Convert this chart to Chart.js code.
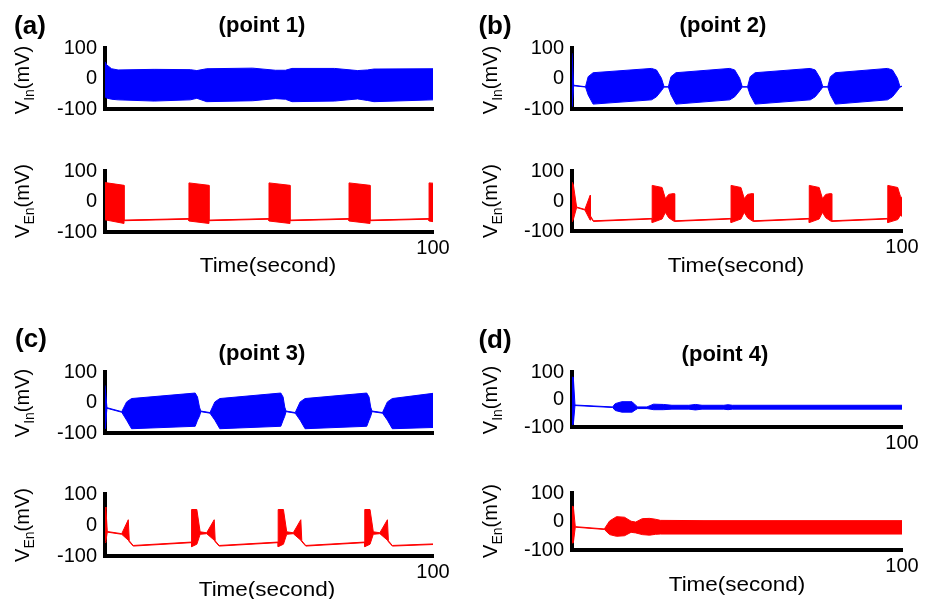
<!DOCTYPE html>
<html>
<head>
<meta charset="utf-8">
<script src="https://cdn.jsdelivr.net/npm/chart.js@4.4.1/dist/chart.umd.min.js"></script>
<style>
  html, body { margin: 0; padding: 0; background: #fff; }
  #fig { position: relative; width: 931px; height: 599px; overflow: hidden; font-family: "Liberation Sans", Arial, sans-serif; color: #000; }
  #fig canvas { position: absolute; }
  .txt { position: absolute; white-space: nowrap; transform: translate(-50%, -50%); line-height: 1; }
  .tag { font-weight: bold; font-size: 26px; }
  .ttl { font-weight: bold; font-size: 22px; }
  .xt { font-size: 21px; transform: translate(-50%, -50%) scaleX(1.07); }
  .yt { font-size: 20px; transform: translate(-50%, -50%) rotate(-90deg); }
  .yt sub { font-size: 14px; vertical-align: -5px; }
</style>
</head>
<body>
<div id="fig"></div>
<script>
// time in seconds, envelopes of the membrane potential in mV (upper / lower edge)
const aInT  = [0, 0.5, 2, 4, 15, 26, 28, 31, 45, 52, 55, 57, 70, 77, 80, 82, 100];
const aInHi = [55, 45, 32, 28, 30, 29, 26, 32, 34, 27, 27, 33, 33, 26, 28, 31, 32];
const aInLo = [-60, -64, -68, -70, -74, -70, -65, -76, -73, -66, -68, -76, -74, -67, -72, -76, -70];

const aEnT  = [0, 5.8, 5.8, 25.6, 25.6, 31.7, 31.7, 50, 50, 56.4, 56.4, 74.4, 74.4, 80.8, 80.8, 98.8, 98.8, 100];
const aEnHi = [62, 53, -61, -56, 61, 53, -61, -56, 61, 53, -61, -56, 61, 53, -61, -56, 61, 60];
const aEnLo = [-60, -72, -63, -58, -64, -72, -63, -58, -64, -72, -63, -58, -64, -72, -63, -58, -64, -66];

const bInT  = [0, 0.2, 0.5, 4.1, 4.9, 6.4, 24.1, 25.6, 27.1, 27.9, 29.2, 30.0, 31.5, 47.8, 49.3, 50.8, 51.6,
               53.2, 54.0, 55.5, 72.2, 73.7, 75.2, 76.0, 77.5, 78.3, 79.8, 95.6, 97.1, 98.6, 99.4, 100];
const bInHi = [83, 83, -22, -27, 6, 19, 33, 28, 1, -27, -27, 6, 19, 33, 28, 1, -27,
               -27, 6, 19, 33, 28, 1, -27, -27, 6, 19, 33, 28, 1, -27, -25];
const bInLo = [-92, -92, -24, -28, -54, -84, -70, -60, -40, -28, -28, -54, -84, -70, -60, -40, -28,
               -28, -54, -84, -70, -60, -40, -28, -28, -54, -84, -70, -60, -40, -28, -26];

const bEnT  = [0, 0.4, 1.4, 3.9, 5.5, 5.6, 6.5, 24.3, 24.3, 27.3, 28.3, 29.3, 30.8, 31.1, 31.1,
               48.2, 48.2, 51.2, 52.2, 53.2, 54.7, 55.0, 55.0, 71.9, 71.9, 74.9, 75.9, 76.9, 78.4, 78.7, 78.7,
               95.7, 95.7, 98.7, 99.5, 100];
const bEnHi = [63, 55, -20, -28, 19, -50, -66, -58, 52, 45, 8, 22, 25, 24, -66,
               -58, 52, 45, 8, 22, 25, 24, -66, -58, 52, 45, 8, 22, 25, 24, -66,
               -58, 52, 45, 16, 11];
const bEnLo = [-70, -62, -22, -30, -64, -55, -68, -60, -72, -60, -38, -56, -67, -68, -68,
               -60, -72, -60, -38, -56, -67, -68, -68, -60, -72, -60, -38, -56, -67, -68, -68,
               -60, -72, -62, -48, -51];

const cInT  = [0, 0.3, 0.6, 5.1, 6.6, 8.1, 27.5, 28.2, 28.8, 29.2, 32.0, 33.5, 35.0, 53.6, 54.3, 54.8, 55.2,
               58.0, 59.5, 61.0, 79.8, 80.5, 81.0, 81.4, 84.6, 86.1, 87.6, 100];
const cInHi = [56, 56, -17, -30, 2, 13, 31, 18, -15, -28, -33, 2, 13, 31, 18, -15, -28,
               -33, 2, 13, 31, 18, -15, -28, -33, 2, 13, 30];
const cInLo = [-86, -86, -19, -32, -58, -86, -78, -58, -45, -30, -35, -58, -86, -78, -58, -45, -30,
               -35, -58, -86, -78, -58, -45, -30, -35, -58, -86, -82];

const cEnT  = [0, 0.3, 0.7, 5.1, 7.1, 7.4, 8.6, 26.4, 26.4, 28.0, 29.0, 31.0, 33.3, 33.6, 34.8,
               52.8, 52.8, 54.4, 55.4, 57.4, 59.7, 60.0, 61.2, 79.2, 79.2, 80.8, 81.8, 83.8, 86.1, 86.4, 87.6, 100];
const cEnHi = [58, 50, -21, -28, 17, -51, -66, -55, 50, 50, -22, -25, 17, -51, -66,
               -55, 50, 50, -22, -25, 17, -51, -66, -55, 50, 50, -22, -25, 17, -51, -66, -61];
const cEnLo = [-56, -50, -23, -30, -49, -54, -68, -57, -70, -62, -30, -28, -49, -54, -68,
               -57, -70, -62, -30, -28, -49, -54, -68, -57, -70, -62, -30, -28, -49, -54, -68, -63];

const dInT  = [0, 0.4, 0.9, 12.3, 13.1, 15.1, 18.2, 19.2, 19.9, 22.7, 24.7, 27.7, 30.3, 35.4, 37.4, 39.4, 46, 47.3, 48.6, 100];
const dInHi = [81, 81, -20, -27, -15, -8, -8, -20, -27, -27, -17, -18, -21, -21, -18, -21, -21, -19, -21, -21];
const dInLo = [-91, -91, -22, -29, -40, -46, -46, -38, -33, -33, -37, -37, -35, -35, -38, -35, -35, -37, -35, -35];

const dEnT  = [0, 0.4, 1.0, 9.8, 11.4, 13.5, 15.9, 17.9, 19.3, 21.3, 23.5, 25.3, 26.8, 40, 100];
const dEnHi = [53, 53, -18, -26, 2, 17, 15, 1, -2, 10, 11, 8, 4, 3, 3];
const dEnLo = [-75, -75, -20, -28, -46, -52, -50, -38, -40, -46, -48, -45, -44, -44, -44];

const yTicks = [-100, 0, 100];
const xTickLabel = 100;

const BLUE = '#0000ff';
const RED = '#ff0000';
const FONT = 'Liberation Sans';

// plot boxes in page pixels: left/right of the axis, top (100 mV) and bottom (-100 mV)
const panels = [
  { t: aInT, hi: aInHi, lo: aInLo, color: BLUE, L: 105, R: 433, T: 48,  B: 109, xLabel: false },
  { t: aEnT, hi: aEnHi, lo: aEnLo, color: RED,  L: 105, R: 433, T: 171, B: 232, xLabel: true },
  { t: bInT, hi: bInHi, lo: bInLo, color: BLUE, L: 572, R: 902, T: 48,  B: 109, xLabel: false },
  { t: bEnT, hi: bEnHi, lo: bEnLo, color: RED,  L: 572, R: 902, T: 171, B: 231, xLabel: true },
  { t: cInT, hi: cInHi, lo: cInLo, color: BLUE, L: 105, R: 433, T: 372, B: 433, xLabel: false },
  { t: cEnT, hi: cEnHi, lo: cEnLo, color: RED,  L: 105, R: 433, T: 494, B: 556, xLabel: true },
  { t: dInT, hi: dInHi, lo: dInLo, color: BLUE, L: 572, R: 902, T: 372, B: 427, xLabel: true },
  { t: dEnT, hi: dEnHi, lo: dEnLo, color: RED,  L: 572, R: 902, T: 493, B: 550, xLabel: true }
];

const texts = [
  ['tag', '(a)', 30, 25], ['tag', '(b)', 495, 25], ['tag', '(c)', 31, 338], ['tag', '(d)', 495, 339],
  ['ttl', '(point 1)', 262, 25], ['ttl', '(point 2)', 723, 25], ['ttl', '(point 3)', 262, 353], ['ttl', '(point 4)', 725, 354],
  ['yt', 'V<sub>In</sub>(mV)', 24, 80], ['yt', 'V<sub>En</sub>(mV)', 24, 201],
  ['yt', 'V<sub>In</sub>(mV)', 492, 80], ['yt', 'V<sub>En</sub>(mV)', 492, 201],
  ['yt', 'V<sub>In</sub>(mV)', 24, 403], ['yt', 'V<sub>En</sub>(mV)', 24, 525],
  ['yt', 'V<sub>In</sub>(mV)', 492, 400], ['yt', 'V<sub>En</sub>(mV)', 492, 521],
  ['xt', 'Time(second)', 268, 264], ['xt', 'Time(second)', 736, 264],
  ['xt', 'Time(second)', 267, 588], ['xt', 'Time(second)', 737, 583]
];

// y tick labels add (half label height + tick padding) above the plot, so keep PAD_T larger than that
const Y_W = 60, X_H = 34, PAD_T = 24, PAD_R = 24;
const fig = document.getElementById('fig');

function pts(t, v) {
  return t.map((x, i) => ({ x: x, y: v[i] }));
}

panels.forEach(p => {
  const cv = document.createElement('canvas');
  cv.width = p.R - p.L + Y_W + PAD_R;
  cv.height = p.B - p.T + PAD_T + X_H;
  cv.style.left = (p.L - Y_W) + 'px';
  cv.style.top = (p.T - PAD_T) + 'px';
  fig.appendChild(cv);

  new Chart(cv, {
    type: 'line',
    data: {
      datasets: [
        { data: pts(p.t, p.hi), borderColor: p.color, backgroundColor: p.color,
          borderWidth: 1, pointRadius: 0, tension: 0, fill: '+1' },
        { data: pts(p.t, p.lo), borderColor: p.color, backgroundColor: p.color,
          borderWidth: 1, pointRadius: 0, tension: 0, fill: false }
      ]
    },
    options: {
      responsive: false,
      animation: false,
      devicePixelRatio: 1,
      events: [],
      layout: { padding: { left: 0, top: PAD_T, right: PAD_R, bottom: 0 } },
      plugins: { legend: { display: false }, tooltip: { enabled: false } },
      scales: {
        x: {
          type: 'linear', min: 0, max: 100,
          grid: { display: false, drawTicks: false },
          border: { display: true, color: '#000', width: 4 },
          ticks: {
            display: p.xLabel, stepSize: 100, autoSkip: false, maxRotation: 0, padding: 4,
            color: '#000', font: { family: FONT, size: 20 },
            callback: v => (v === xTickLabel ? String(xTickLabel) : '')
          },
          afterFit: s => { s.height = X_H; }
        },
        y: {
          min: -100, max: 100,
          grid: { display: false, drawTicks: false },
          border: { display: true, color: '#000', width: 4 },
          ticks: { stepSize: 100, autoSkip: false, padding: 8, color: '#000', font: { family: FONT, size: 20 } },
          afterBuildTicks: s => { s.ticks = yTicks.map(v => ({ value: v })); },
          afterFit: s => { s.width = Y_W; }
        }
      }
    }
  });
});

texts.forEach(([cls, html, x, y]) => {
  const d = document.createElement('div');
  d.className = 'txt ' + cls;
  d.innerHTML = html;
  d.style.left = x + 'px';
  d.style.top = y + 'px';
  fig.appendChild(d);
});
</script>
</body>
</html>
